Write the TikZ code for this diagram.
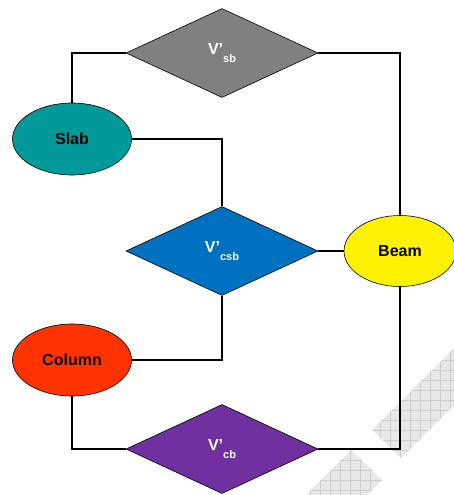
\documentclass[tikz,border=0pt]{standalone}
\usepackage{fontspec}
\setmainfont{Liberation Sans}
\usetikzlibrary{shapes.geometric}
\definecolor{sbgray}{RGB}{128,128,128}
\definecolor{slabteal}{RGB}{0,153,153}
\definecolor{csbblue}{RGB}{0,112,192}
\definecolor{colred}{RGB}{255,51,0}
\definecolor{cbpurple}{RGB}{112,48,160}
\newcommand{\vsub}[1]{V’\raisebox{-8pt}{\fontsize{11}{11}\selectfont #1}}

\begin{document}
\begin{tikzpicture}[x=1pt,y=-1pt,line width=1.3pt,
  dia/.style={diamond,draw,line width=0.6pt,inner sep=0pt,minimum width=192pt,minimum height=89pt,text=white,font=\bfseries\fontsize{16}{16}\selectfont},
  ell/.style={ellipse,draw,line width=0.6pt,inner sep=0pt,minimum width=119pt,minimum height=72pt,font=\bfseries\fontsize{16}{16}\selectfont}]
\useasboundingbox (0,0) rectangle (454,495);
% hatched background pieces
\begin{scope}
\clip (372,430) -- (401,458) -- (454,405) -- (454,348) -- cycle;
\fill[gray!18] (300,340) rectangle (454,495); \draw[gray!40,line width=0.5pt,step=10pt] (300,340) grid (460,500);
\end{scope}
\begin{scope}
\clip (351,450) -- (382,480) -- (367,495) -- (306,495) -- cycle;
\fill[gray!18] (300,440) rectangle (454,495); \draw[gray!40,line width=0.5pt,step=10pt] (300,440) grid (460,500);
\end{scope}
% nodes
\node[dia,fill=sbgray] (sb) at (222,53) {\vsub{sb}};
\node[dia,fill=csbblue] (csb) at (222,251) {\vsub{csb}};
\node[dia,fill=cbpurple] (cb) at (222,449) {\vsub{cb}};
\node[ell,fill=slabteal] (slab) at (72,139) {Slab};
\node[ell,fill=colred] (column) at (72,360) {Column};
\node[ell,fill=yellow,minimum width=112pt,minimum height=71pt] (beam) at (400,251) {Beam};
% connectors
\draw (sb.west) -| (slab.north); \draw (sb.east) -| (beam.north);
\draw (slab.east) -| (csb.north); \draw[line width=2.6pt] (csb.east) -- (beam.west);
\draw (csb.south) |- (column.east); \draw (column.south) |- (cb.west);
\draw (beam.south) |- (cb.east);
\end{tikzpicture}
\end{document}
